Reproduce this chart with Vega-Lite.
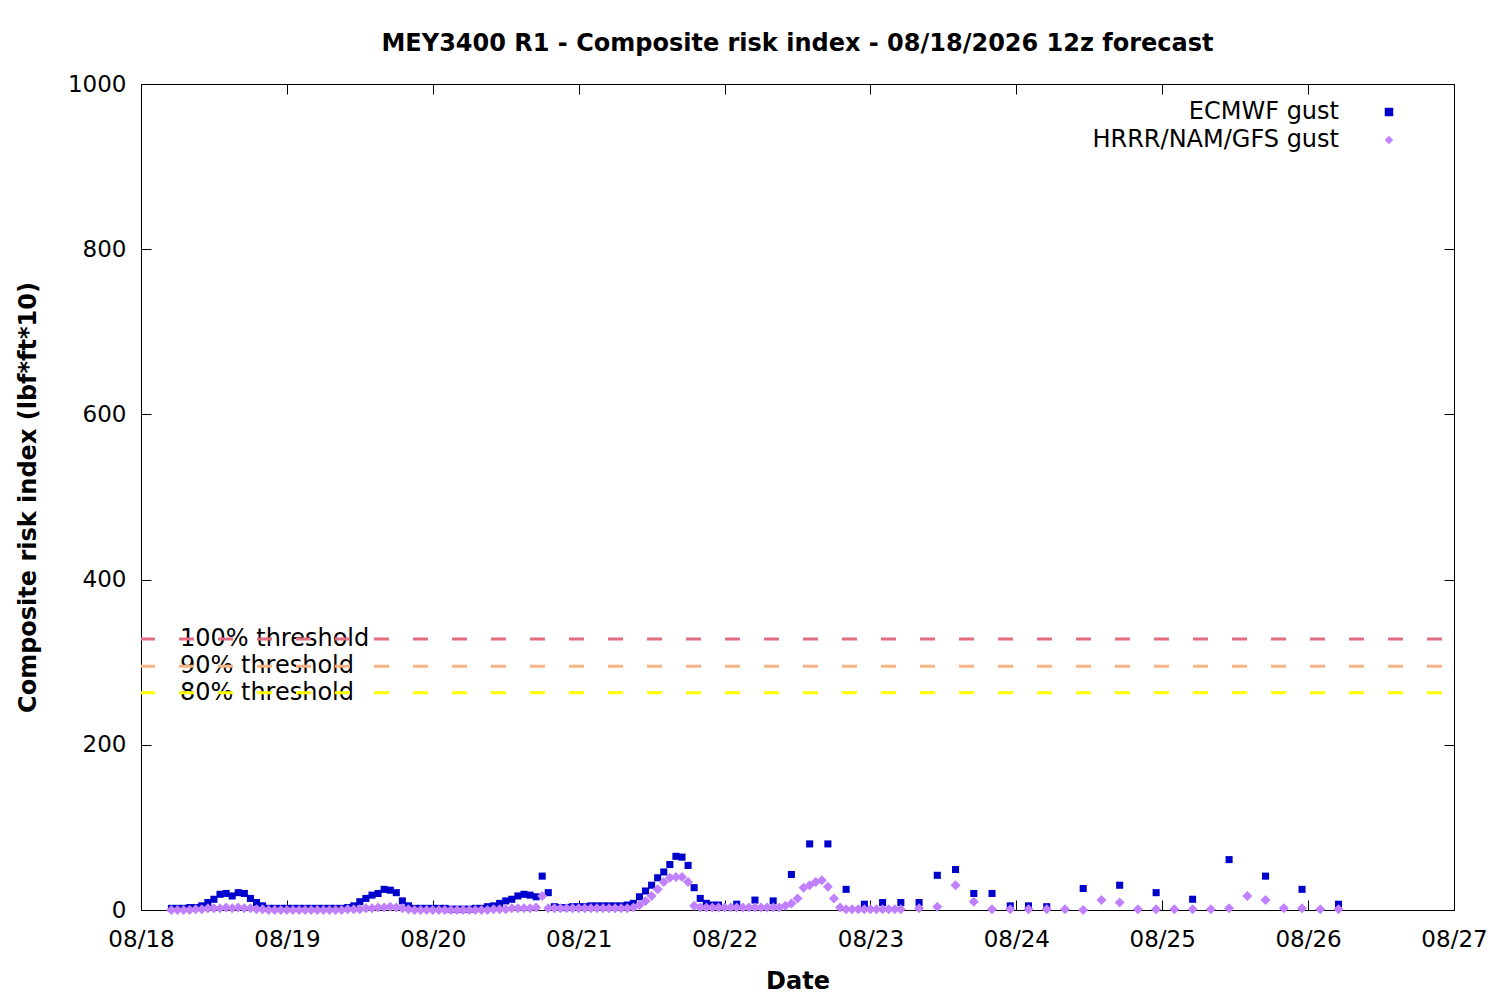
{
  "$schema": "https://vega.github.io/schema/vega-lite/v6.json",
  "width": 1313,
  "height": 826,
  "autosize": "none",
  "padding": {"left": 141, "top": 84, "right": 46, "bottom": 90},
  "background": "white",
  "title": {
    "text": "MEY3400 R1 - Composite risk index - 08/18/2026 12z forecast",
    "font": "DejaVu Sans",
    "fontSize": 24,
    "fontWeight": "bold",
    "color": "black",
    "anchor": "middle",
    "baseline": "alphabetic",
    "offset": -2
  },
  "datasets": {
    "thresholds": [
      {"label": "100% threshold", "v": 328},
      {"label": "90% threshold", "v": 295},
      {"label": "80% threshold", "v": 263}
    ],
    "ecmwf": [
      {"t": "2026-08-18T05:00", "v": 2}, {"t": "2026-08-18T06:00", "v": 2}, {"t": "2026-08-18T07:00", "v": 2}, {"t": "2026-08-18T08:00", "v": 3},
      {"t": "2026-08-18T09:00", "v": 3}, {"t": "2026-08-18T10:00", "v": 5}, {"t": "2026-08-18T11:00", "v": 9}, {"t": "2026-08-18T12:00", "v": 13},
      {"t": "2026-08-18T13:00", "v": 19}, {"t": "2026-08-18T14:00", "v": 20}, {"t": "2026-08-18T15:00", "v": 17}, {"t": "2026-08-18T16:00", "v": 21},
      {"t": "2026-08-18T17:00", "v": 20}, {"t": "2026-08-18T18:00", "v": 14}, {"t": "2026-08-18T19:00", "v": 9}, {"t": "2026-08-18T20:00", "v": 5},
      {"t": "2026-08-18T21:00", "v": 2}, {"t": "2026-08-18T22:00", "v": 2}, {"t": "2026-08-18T23:00", "v": 2},
      {"t": "2026-08-19T00:00", "v": 2}, {"t": "2026-08-19T01:00", "v": 2}, {"t": "2026-08-19T02:00", "v": 2}, {"t": "2026-08-19T03:00", "v": 2},
      {"t": "2026-08-19T04:00", "v": 2}, {"t": "2026-08-19T05:00", "v": 2}, {"t": "2026-08-19T06:00", "v": 2}, {"t": "2026-08-19T07:00", "v": 2},
      {"t": "2026-08-19T08:00", "v": 2}, {"t": "2026-08-19T09:00", "v": 2}, {"t": "2026-08-19T10:00", "v": 3}, {"t": "2026-08-19T11:00", "v": 5},
      {"t": "2026-08-19T12:00", "v": 10}, {"t": "2026-08-19T13:00", "v": 14}, {"t": "2026-08-19T14:00", "v": 18}, {"t": "2026-08-19T15:00", "v": 20},
      {"t": "2026-08-19T16:00", "v": 25}, {"t": "2026-08-19T17:00", "v": 24}, {"t": "2026-08-19T18:00", "v": 21}, {"t": "2026-08-19T19:00", "v": 11},
      {"t": "2026-08-19T20:00", "v": 5}, {"t": "2026-08-19T21:00", "v": 2}, {"t": "2026-08-19T22:00", "v": 2}, {"t": "2026-08-19T23:00", "v": 2},
      {"t": "2026-08-20T00:00", "v": 2}, {"t": "2026-08-20T01:00", "v": 2}, {"t": "2026-08-20T02:00", "v": 2}, {"t": "2026-08-20T03:00", "v": 1},
      {"t": "2026-08-20T04:00", "v": 1}, {"t": "2026-08-20T05:00", "v": 1}, {"t": "2026-08-20T06:00", "v": 1}, {"t": "2026-08-20T07:00", "v": 2},
      {"t": "2026-08-20T08:00", "v": 2}, {"t": "2026-08-20T09:00", "v": 4}, {"t": "2026-08-20T10:00", "v": 5}, {"t": "2026-08-20T11:00", "v": 8},
      {"t": "2026-08-20T12:00", "v": 11}, {"t": "2026-08-20T13:00", "v": 13}, {"t": "2026-08-20T14:00", "v": 17}, {"t": "2026-08-20T15:00", "v": 19},
      {"t": "2026-08-20T16:00", "v": 18}, {"t": "2026-08-20T17:00", "v": 16}, {"t": "2026-08-20T18:00", "v": 41}, {"t": "2026-08-20T19:00", "v": 21},
      {"t": "2026-08-20T20:00", "v": 4}, {"t": "2026-08-20T21:00", "v": 3}, {"t": "2026-08-20T22:00", "v": 3}, {"t": "2026-08-20T23:00", "v": 4},
      {"t": "2026-08-21T00:00", "v": 4}, {"t": "2026-08-21T01:00", "v": 4}, {"t": "2026-08-21T02:00", "v": 5}, {"t": "2026-08-21T03:00", "v": 5},
      {"t": "2026-08-21T04:00", "v": 5}, {"t": "2026-08-21T05:00", "v": 5}, {"t": "2026-08-21T06:00", "v": 5}, {"t": "2026-08-21T07:00", "v": 5},
      {"t": "2026-08-21T08:00", "v": 6}, {"t": "2026-08-21T09:00", "v": 8}, {"t": "2026-08-21T10:00", "v": 16}, {"t": "2026-08-21T11:00", "v": 23},
      {"t": "2026-08-21T12:00", "v": 30}, {"t": "2026-08-21T13:00", "v": 39}, {"t": "2026-08-21T14:00", "v": 46}, {"t": "2026-08-21T15:00", "v": 55},
      {"t": "2026-08-21T16:00", "v": 65}, {"t": "2026-08-21T17:00", "v": 64}, {"t": "2026-08-21T18:00", "v": 54}, {"t": "2026-08-21T19:00", "v": 27},
      {"t": "2026-08-21T20:00", "v": 14}, {"t": "2026-08-21T21:00", "v": 8}, {"t": "2026-08-21T22:00", "v": 6}, {"t": "2026-08-21T23:00", "v": 6},
      {"t": "2026-08-22T02:00", "v": 7}, {"t": "2026-08-22T05:00", "v": 12}, {"t": "2026-08-22T08:00", "v": 11}, {"t": "2026-08-22T11:00", "v": 43},
      {"t": "2026-08-22T14:00", "v": 80}, {"t": "2026-08-22T17:00", "v": 80}, {"t": "2026-08-22T20:00", "v": 25}, {"t": "2026-08-22T23:00", "v": 7},
      {"t": "2026-08-23T02:00", "v": 9}, {"t": "2026-08-23T05:00", "v": 9}, {"t": "2026-08-23T08:00", "v": 9}, {"t": "2026-08-23T11:00", "v": 42},
      {"t": "2026-08-23T14:00", "v": 49}, {"t": "2026-08-23T17:00", "v": 20}, {"t": "2026-08-23T20:00", "v": 20}, {"t": "2026-08-23T23:00", "v": 5},
      {"t": "2026-08-24T02:00", "v": 5}, {"t": "2026-08-24T05:00", "v": 4}, {"t": "2026-08-24T11:00", "v": 26}, {"t": "2026-08-24T17:00", "v": 30},
      {"t": "2026-08-24T23:00", "v": 21}, {"t": "2026-08-25T05:00", "v": 13}, {"t": "2026-08-25T11:00", "v": 61}, {"t": "2026-08-25T17:00", "v": 41},
      {"t": "2026-08-25T23:00", "v": 25}, {"t": "2026-08-26T05:00", "v": 7}
    ],
    "hrrr": [
      {"t": "2026-08-18T05:00", "v": 0}, {"t": "2026-08-18T06:00", "v": 0}, {"t": "2026-08-18T07:00", "v": 0}, {"t": "2026-08-18T08:00", "v": 0},
      {"t": "2026-08-18T09:00", "v": 1}, {"t": "2026-08-18T10:00", "v": 1}, {"t": "2026-08-18T11:00", "v": 2}, {"t": "2026-08-18T12:00", "v": 2},
      {"t": "2026-08-18T13:00", "v": 2}, {"t": "2026-08-18T14:00", "v": 3}, {"t": "2026-08-18T15:00", "v": 2}, {"t": "2026-08-18T16:00", "v": 3},
      {"t": "2026-08-18T17:00", "v": 2}, {"t": "2026-08-18T18:00", "v": 2}, {"t": "2026-08-18T19:00", "v": 1}, {"t": "2026-08-18T20:00", "v": 1},
      {"t": "2026-08-18T21:00", "v": 0}, {"t": "2026-08-18T22:00", "v": 0}, {"t": "2026-08-18T23:00", "v": 0},
      {"t": "2026-08-19T00:00", "v": 0}, {"t": "2026-08-19T01:00", "v": 0}, {"t": "2026-08-19T02:00", "v": 0}, {"t": "2026-08-19T03:00", "v": 0},
      {"t": "2026-08-19T04:00", "v": 0}, {"t": "2026-08-19T05:00", "v": 0}, {"t": "2026-08-19T06:00", "v": 0}, {"t": "2026-08-19T07:00", "v": 0},
      {"t": "2026-08-19T08:00", "v": 0}, {"t": "2026-08-19T09:00", "v": 0}, {"t": "2026-08-19T10:00", "v": 1}, {"t": "2026-08-19T11:00", "v": 1},
      {"t": "2026-08-19T12:00", "v": 1}, {"t": "2026-08-19T13:00", "v": 2}, {"t": "2026-08-19T14:00", "v": 2}, {"t": "2026-08-19T15:00", "v": 3},
      {"t": "2026-08-19T16:00", "v": 3}, {"t": "2026-08-19T17:00", "v": 4}, {"t": "2026-08-19T18:00", "v": 3}, {"t": "2026-08-19T19:00", "v": 2},
      {"t": "2026-08-19T20:00", "v": 1}, {"t": "2026-08-19T21:00", "v": 0}, {"t": "2026-08-19T22:00", "v": 0}, {"t": "2026-08-19T23:00", "v": 0},
      {"t": "2026-08-20T00:00", "v": 0}, {"t": "2026-08-20T01:00", "v": 0}, {"t": "2026-08-20T02:00", "v": 0}, {"t": "2026-08-20T03:00", "v": 0},
      {"t": "2026-08-20T04:00", "v": 0}, {"t": "2026-08-20T05:00", "v": 0}, {"t": "2026-08-20T06:00", "v": 0}, {"t": "2026-08-20T07:00", "v": 0},
      {"t": "2026-08-20T08:00", "v": 0}, {"t": "2026-08-20T09:00", "v": 0}, {"t": "2026-08-20T10:00", "v": 1}, {"t": "2026-08-20T11:00", "v": 1},
      {"t": "2026-08-20T12:00", "v": 1}, {"t": "2026-08-20T13:00", "v": 2}, {"t": "2026-08-20T14:00", "v": 2}, {"t": "2026-08-20T15:00", "v": 2},
      {"t": "2026-08-20T16:00", "v": 2}, {"t": "2026-08-20T17:00", "v": 3}, {"t": "2026-08-20T18:00", "v": 17}, {"t": "2026-08-20T19:00", "v": 2},
      {"t": "2026-08-20T20:00", "v": 2}, {"t": "2026-08-20T21:00", "v": 2}, {"t": "2026-08-20T22:00", "v": 2}, {"t": "2026-08-20T23:00", "v": 2},
      {"t": "2026-08-21T00:00", "v": 2}, {"t": "2026-08-21T01:00", "v": 2}, {"t": "2026-08-21T02:00", "v": 2}, {"t": "2026-08-21T03:00", "v": 2},
      {"t": "2026-08-21T04:00", "v": 2}, {"t": "2026-08-21T05:00", "v": 2}, {"t": "2026-08-21T06:00", "v": 2}, {"t": "2026-08-21T07:00", "v": 2},
      {"t": "2026-08-21T08:00", "v": 2}, {"t": "2026-08-21T09:00", "v": 3}, {"t": "2026-08-21T10:00", "v": 6}, {"t": "2026-08-21T11:00", "v": 11},
      {"t": "2026-08-21T12:00", "v": 17}, {"t": "2026-08-21T13:00", "v": 25}, {"t": "2026-08-21T14:00", "v": 34}, {"t": "2026-08-21T15:00", "v": 39},
      {"t": "2026-08-21T16:00", "v": 40}, {"t": "2026-08-21T17:00", "v": 40}, {"t": "2026-08-21T18:00", "v": 34}, {"t": "2026-08-21T19:00", "v": 5},
      {"t": "2026-08-21T20:00", "v": 3}, {"t": "2026-08-21T21:00", "v": 3}, {"t": "2026-08-21T22:00", "v": 3}, {"t": "2026-08-21T23:00", "v": 3},
      {"t": "2026-08-22T00:00", "v": 3}, {"t": "2026-08-22T01:00", "v": 3}, {"t": "2026-08-22T02:00", "v": 3}, {"t": "2026-08-22T03:00", "v": 3},
      {"t": "2026-08-22T04:00", "v": 3}, {"t": "2026-08-22T05:00", "v": 3}, {"t": "2026-08-22T06:00", "v": 3}, {"t": "2026-08-22T07:00", "v": 3},
      {"t": "2026-08-22T08:00", "v": 3}, {"t": "2026-08-22T09:00", "v": 3}, {"t": "2026-08-22T10:00", "v": 5}, {"t": "2026-08-22T11:00", "v": 8},
      {"t": "2026-08-22T12:00", "v": 14}, {"t": "2026-08-22T13:00", "v": 27}, {"t": "2026-08-22T14:00", "v": 30}, {"t": "2026-08-22T15:00", "v": 34},
      {"t": "2026-08-22T16:00", "v": 36}, {"t": "2026-08-22T17:00", "v": 28}, {"t": "2026-08-22T18:00", "v": 14}, {"t": "2026-08-22T19:00", "v": 3},
      {"t": "2026-08-22T20:00", "v": 1}, {"t": "2026-08-22T21:00", "v": 1}, {"t": "2026-08-22T22:00", "v": 1}, {"t": "2026-08-22T23:00", "v": 1},
      {"t": "2026-08-23T00:00", "v": 1}, {"t": "2026-08-23T01:00", "v": 1}, {"t": "2026-08-23T02:00", "v": 1}, {"t": "2026-08-23T03:00", "v": 1},
      {"t": "2026-08-23T04:00", "v": 1}, {"t": "2026-08-23T05:00", "v": 1},
      {"t": "2026-08-23T08:00", "v": 2}, {"t": "2026-08-23T11:00", "v": 4}, {"t": "2026-08-23T14:00", "v": 30}, {"t": "2026-08-23T17:00", "v": 10},
      {"t": "2026-08-23T20:00", "v": 1}, {"t": "2026-08-23T23:00", "v": 1}, {"t": "2026-08-24T02:00", "v": 1}, {"t": "2026-08-24T05:00", "v": 1},
      {"t": "2026-08-24T08:00", "v": 1}, {"t": "2026-08-24T11:00", "v": 0}, {"t": "2026-08-24T14:00", "v": 12}, {"t": "2026-08-24T17:00", "v": 9},
      {"t": "2026-08-24T20:00", "v": 1}, {"t": "2026-08-24T23:00", "v": 1}, {"t": "2026-08-25T02:00", "v": 1}, {"t": "2026-08-25T05:00", "v": 1},
      {"t": "2026-08-25T08:00", "v": 1}, {"t": "2026-08-25T11:00", "v": 2}, {"t": "2026-08-25T14:00", "v": 17}, {"t": "2026-08-25T17:00", "v": 12},
      {"t": "2026-08-25T20:00", "v": 2}, {"t": "2026-08-25T23:00", "v": 2}, {"t": "2026-08-26T02:00", "v": 1}, {"t": "2026-08-26T05:00", "v": 1}
    ]
  },
  "layer": [
    {
      "data": {"name": "thresholds"},
      "mark": {"type": "text", "align": "left", "baseline": "middle", "font": "DejaVu Sans", "fontSize": 24, "color": "black"},
      "encoding": {
        "x": {
          "datum": {"year": 2026, "month": 8, "date": 18, "hours": 6, "minutes": 25},
          "type": "temporal",
          "axis": {"orient": "top", "labels": false, "title": null, "tickSize": -10, "tickColor": "black", "domain": false, "grid": false, "tickCount": {"interval": "day", "step": 1}}
        },
        "y": {
          "field": "v",
          "type": "quantitative",
          "axis": {"orient": "right", "labels": false, "title": null, "tickSize": -10, "tickColor": "black", "domain": false, "grid": false, "values": [0, 200, 400, 600, 800, 1000]}
        },
        "text": {"field": "label"}
      }
    },
    {
      "data": {"name": "thresholds"},
      "mark": {"type": "rule", "strokeWidth": 3, "strokeDash": [15, 24], "strokeDashOffset": 27},
      "encoding": {
        "y": {"field": "v", "type": "quantitative", "axis": null},
        "stroke": {
          "field": "label",
          "type": "nominal",
          "scale": {"domain": ["100% threshold", "90% threshold", "80% threshold"], "range": ["#e36d80", "#f6b383", "#ffff00"]},
          "legend": null
        }
      }
    },
    {
      "data": {"name": "ecmwf"},
      "mark": {"type": "point", "filled": true, "opacity": 1, "size": 50},
      "encoding": {
        "x": {
          "field": "t",
          "type": "temporal",
          "scale": {"domain": [{"year": 2026, "month": 8, "date": 18}, {"year": 2026, "month": 8, "date": 27}]},
          "axis": {"orient": "bottom", "format": "%m/%d", "tickCount": {"interval": "day", "step": 1}, "tickSize": -10, "tickColor": "black", "domain": false, "grid": false, "labelFlush": false, "labelOverlap": false, "labelPadding": 28, "title": "Date", "titlePadding": 18}
        },
        "y": {
          "field": "v",
          "type": "quantitative",
          "scale": {"domain": [0, 1000], "nice": false},
          "axis": {"orient": "left", "values": [0, 200, 400, 600, 800, 1000], "format": "d", "tickSize": -10, "tickColor": "black", "domain": false, "grid": false, "labelPadding": 25, "title": "Composite risk index (lbf*ft*10)", "titlePadding": 27}
        },
        "color": {
          "datum": "ECMWF gust",
          "type": "nominal",
          "scale": {"domain": ["ECMWF gust", "HRRR/NAM/GFS gust"], "range": ["#0000cd", "#c080ff"]},
          "legend": {"orient": "none", "legendX": 1236, "legendY": 16, "title": null, "labelAlign": "right", "labelOffset": -62, "symbolSize": 72, "rowPadding": 4}
        },
        "shape": {
          "datum": "ECMWF gust",
          "type": "nominal",
          "scale": {"domain": ["ECMWF gust", "HRRR/NAM/GFS gust"], "range": ["square", "diamond"]},
          "legend": {"orient": "none", "legendX": 1236, "legendY": 16, "title": null, "labelAlign": "right", "labelOffset": -62, "symbolSize": 72, "rowPadding": 4}
        }
      }
    },
    {
      "data": {"name": "hrrr"},
      "mark": {"type": "point", "filled": true, "opacity": 1, "size": 100},
      "encoding": {
        "x": {"field": "t", "type": "temporal", "axis": null},
        "y": {"field": "v", "type": "quantitative", "axis": null},
        "color": {"datum": "HRRR/NAM/GFS gust", "type": "nominal"},
        "shape": {"datum": "HRRR/NAM/GFS gust", "type": "nominal"}
      }
    }
  ],
  "config": {
    "view": {"stroke": "black", "strokeWidth": 1},
    "axis": {
      "labelFont": "DejaVu Sans",
      "labelFontSize": 23,
      "labelColor": "black",
      "titleFont": "DejaVu Sans",
      "titleFontSize": 24,
      "titleFontWeight": "bold",
      "titleColor": "black",
      "tickWidth": 1
    },
    "legend": {
      "labelFont": "DejaVu Sans",
      "labelFontSize": 24,
      "labelColor": "black",
      "labelLimit": 400
    }
  }
}
